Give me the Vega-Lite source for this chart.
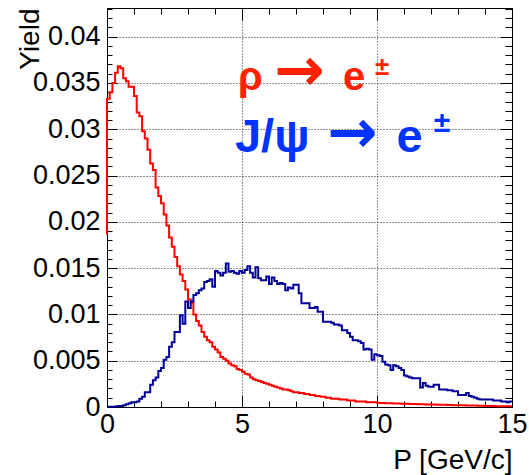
{
  "$schema": "https://vega.github.io/schema/vega-lite/v6.json",
  "width": 405,
  "height": 399,
  "autosize": "none",
  "padding": {"left": 107, "top": 8, "right": 17, "bottom": 68},
  "background": "white",
  "config": {
    "view": {"stroke": null},
    "axis": {
      "domainColor": "black", "domainWidth": 1,
      "tickColor": "black", "tickWidth": 1,
      "labelFont": "Liberation Sans", "labelFontSize": 27, "labelColor": "black",
      "titleFont": "Liberation Sans", "titleFontSize": 28, "titleFontWeight": "normal", "titleColor": "black",
      "gridColor": "black", "gridDash": [1, 2], "gridWidth": 1
    }
  },
  "datasets": {
    "red": [
      {"x":0,"y":0.0186},{"x":0,"y":0.0333},{"x":0.1,"y":0.034},{"x":0.2,"y":0.035},{"x":0.3,"y":0.0361},{"x":0.4,"y":0.0368},{"x":0.5,"y":0.0366},{"x":0.6,"y":0.0355},{"x":0.7,"y":0.0352},{"x":0.8,"y":0.0346},{"x":0.9,"y":0.0346},
      {"x":1,"y":0.0336},{"x":1.1,"y":0.0318},{"x":1.2,"y":0.0314},{"x":1.3,"y":0.0298},{"x":1.4,"y":0.029},{"x":1.5,"y":0.0278},{"x":1.6,"y":0.0263},{"x":1.7,"y":0.0256},{"x":1.8,"y":0.0237},{"x":1.9,"y":0.0228},
      {"x":2,"y":0.022},{"x":2.1,"y":0.0208},{"x":2.2,"y":0.0196},{"x":2.3,"y":0.0183},{"x":2.4,"y":0.0173},{"x":2.5,"y":0.0162},{"x":2.6,"y":0.0152},{"x":2.7,"y":0.0143},{"x":2.8,"y":0.0136},{"x":2.9,"y":0.0127},
      {"x":3,"y":0.0116},{"x":3.1,"y":0.0113},{"x":3.2,"y":0.01},{"x":3.3,"y":0.0093},{"x":3.4,"y":0.0088},{"x":3.5,"y":0.0081},{"x":3.6,"y":0.0076},{"x":3.7,"y":0.0072},{"x":3.8,"y":0.007},{"x":3.9,"y":0.0065},
      {"x":4,"y":0.0062},{"x":4.1,"y":0.0059},{"x":4.2,"y":0.0054},{"x":4.3,"y":0.0052},{"x":4.4,"y":0.005},{"x":4.5,"y":0.0047},{"x":4.6,"y":0.0045},{"x":4.7,"y":0.0044},{"x":4.8,"y":0.0041},{"x":4.9,"y":0.004},
      {"x":5,"y":0.0038},{"x":5.1,"y":0.0036},{"x":5.2,"y":0.0035},{"x":5.3,"y":0.0032},{"x":5.4,"y":0.003},{"x":5.5,"y":0.0029},{"x":5.6,"y":0.0028},{"x":5.7,"y":0.0027},{"x":5.8,"y":0.0026},{"x":5.9,"y":0.0025},
      {"x":6,"y":0.0024},{"x":6.1,"y":0.0023},{"x":6.2,"y":0.0022},{"x":6.3,"y":0.0021},{"x":6.4,"y":0.002},{"x":6.5,"y":0.0019},{"x":6.6,"y":0.0019},{"x":6.7,"y":0.0018},{"x":6.8,"y":0.0017},{"x":6.9,"y":0.0016},
      {"x":7,"y":0.0016},{"x":7.1,"y":0.0015},{"x":7.2,"y":0.0015},{"x":7.3,"y":0.0014},{"x":7.4,"y":0.0014},{"x":7.5,"y":0.0013},{"x":7.6,"y":0.0013},{"x":7.7,"y":0.0012},{"x":7.8,"y":0.0012},{"x":7.9,"y":0.0011},
      {"x":8,"y":0.0011},{"x":8.1,"y":0.001},{"x":8.2,"y":0.001},{"x":8.3,"y":0.0009},{"x":8.4,"y":0.0009},{"x":8.5,"y":0.0009},{"x":8.6,"y":0.0008},{"x":8.7,"y":0.0008},{"x":8.8,"y":0.0008},{"x":8.9,"y":0.0007},
      {"x":9,"y":0.0007},{"x":9.1,"y":0.0007},{"x":9.2,"y":0.0006},{"x":9.3,"y":0.0006},{"x":9.4,"y":0.0006},{"x":9.5,"y":0.0006},{"x":9.6,"y":0.0005},{"x":9.7,"y":0.0005},{"x":9.8,"y":0.0005},{"x":9.9,"y":0.0005},
      {"x":10,"y":0.00045},{"x":10.1,"y":0.00044},{"x":10.2,"y":0.00042},{"x":10.3,"y":0.00041},{"x":10.4,"y":0.0004},{"x":10.5,"y":0.0004},{"x":10.6,"y":0.00039},{"x":10.7,"y":0.00038},{"x":10.8,"y":0.00037},{"x":10.9,"y":0.00036},
      {"x":11,"y":0.00035},{"x":11.1,"y":0.00034},{"x":11.2,"y":0.00033},{"x":11.3,"y":0.00032},{"x":11.4,"y":0.00032},{"x":11.5,"y":0.00031},{"x":11.6,"y":0.0003},{"x":11.7,"y":0.00029},{"x":11.8,"y":0.00028},{"x":11.9,"y":0.00028},
      {"x":12,"y":0.00027},{"x":12.1,"y":0.00026},{"x":12.2,"y":0.00025},{"x":12.3,"y":0.00024},{"x":12.4,"y":0.00024},{"x":12.5,"y":0.00023},{"x":12.6,"y":0.00022},{"x":12.7,"y":0.00021},{"x":12.8,"y":0.0002},{"x":12.9,"y":0.0002},
      {"x":13,"y":0.00019},{"x":13.1,"y":0.00018},{"x":13.2,"y":0.00018},{"x":13.3,"y":0.00017},{"x":13.4,"y":0.00016},{"x":13.5,"y":0.00015},{"x":13.6,"y":0.00015},{"x":13.7,"y":0.00014},{"x":13.8,"y":0.00013},{"x":13.9,"y":0.00013},
      {"x":14,"y":0.00012},{"x":14.1,"y":0.00011},{"x":14.2,"y":0.0001},{"x":14.3,"y":0.0001},{"x":14.4,"y":0.00009},{"x":14.5,"y":0.00009},{"x":14.6,"y":0.00008},{"x":14.7,"y":0.00008},{"x":14.8,"y":0.00007},{"x":14.9,"y":0.00007},
      {"x":15,"y":0.00007}
    ],
    "blue": [
      {"x":0,"y":0.00003},{"x":0.1,"y":0.00003},{"x":0.2,"y":0.00004},{"x":0.3,"y":0.00005},{"x":0.4,"y":0.0001},{"x":0.5,"y":0.0001},{"x":0.6,"y":0.0002},{"x":0.7,"y":0.0003},{"x":0.8,"y":0.0004},{"x":0.9,"y":0.0005},
      {"x":1,"y":0.0005},{"x":1.1,"y":0.0006},{"x":1.2,"y":0.0009},{"x":1.3,"y":0.0011},{"x":1.4,"y":0.0016},{"x":1.5,"y":0.0016},{"x":1.6,"y":0.0024},{"x":1.7,"y":0.0029},{"x":1.8,"y":0.0032},{"x":1.9,"y":0.0039},
      {"x":2,"y":0.0042},{"x":2.1,"y":0.0051},{"x":2.2,"y":0.0054},{"x":2.3,"y":0.0065},{"x":2.4,"y":0.007},{"x":2.5,"y":0.0081},{"x":2.6,"y":0.0081},{"x":2.7,"y":0.0099},{"x":2.8,"y":0.009},{"x":2.9,"y":0.0114},
      {"x":3,"y":0.0107},{"x":3.1,"y":0.0114},{"x":3.2,"y":0.0121},{"x":3.3,"y":0.0123},{"x":3.4,"y":0.0126},{"x":3.5,"y":0.0128},{"x":3.6,"y":0.0135},{"x":3.7,"y":0.0136},{"x":3.8,"y":0.0138},{"x":3.9,"y":0.013},
      {"x":4,"y":0.0147},{"x":4.1,"y":0.0145},{"x":4.2,"y":0.0142},{"x":4.3,"y":0.0145},{"x":4.4,"y":0.0155},{"x":4.5,"y":0.0146},{"x":4.6,"y":0.0147},{"x":4.7,"y":0.0145},{"x":4.8,"y":0.0144},{"x":4.9,"y":0.0147},
      {"x":5,"y":0.0145},{"x":5.1,"y":0.0148},{"x":5.2,"y":0.0152},{"x":5.3,"y":0.0145},{"x":5.4,"y":0.014},{"x":5.5,"y":0.0151},{"x":5.6,"y":0.0139},{"x":5.7,"y":0.0137},{"x":5.8,"y":0.0137},{"x":5.9,"y":0.0141},
      {"x":6,"y":0.0133},{"x":6.1,"y":0.014},{"x":6.2,"y":0.0136},{"x":6.3,"y":0.0133},{"x":6.4,"y":0.0134},{"x":6.5,"y":0.0133},{"x":6.6,"y":0.0126},{"x":6.7,"y":0.0129},{"x":6.8,"y":0.0128},{"x":6.9,"y":0.0132},
      {"x":7,"y":0.0132},{"x":7.1,"y":0.0123},{"x":7.2,"y":0.0112},{"x":7.3,"y":0.0112},{"x":7.4,"y":0.0112},{"x":7.5,"y":0.0107},{"x":7.6,"y":0.0107},{"x":7.7,"y":0.0108},{"x":7.8,"y":0.0103},{"x":7.9,"y":0.0103},
      {"x":8,"y":0.0092},{"x":8.1,"y":0.0092},{"x":8.2,"y":0.0092},{"x":8.3,"y":0.0091},{"x":8.4,"y":0.0089},{"x":8.5,"y":0.0089},{"x":8.6,"y":0.0088},{"x":8.7,"y":0.0083},{"x":8.8,"y":0.0083},{"x":8.9,"y":0.008},
      {"x":9,"y":0.0076},{"x":9.1,"y":0.0072},{"x":9.2,"y":0.0072},{"x":9.3,"y":0.0071},{"x":9.4,"y":0.0069},{"x":9.5,"y":0.0062},{"x":9.6,"y":0.0063},{"x":9.7,"y":0.0062},{"x":9.8,"y":0.0051},{"x":9.9,"y":0.0057},
      {"x":10,"y":0.0056},{"x":10.1,"y":0.0055},{"x":10.2,"y":0.0049},{"x":10.3,"y":0.0046},{"x":10.4,"y":0.0045},{"x":10.5,"y":0.004},{"x":10.6,"y":0.0045},{"x":10.7,"y":0.0044},{"x":10.8,"y":0.0042},{"x":10.9,"y":0.004},
      {"x":11,"y":0.0034},{"x":11.1,"y":0.0033},{"x":11.2,"y":0.0032},{"x":11.3,"y":0.0031},{"x":11.4,"y":0.0031},{"x":11.5,"y":0.0031},{"x":11.6,"y":0.0021},{"x":11.7,"y":0.0026},{"x":11.8,"y":0.0023},{"x":11.9,"y":0.0022},
      {"x":12,"y":0.0022},{"x":12.1,"y":0.0024},{"x":12.2,"y":0.0024},{"x":12.3,"y":0.0019},{"x":12.4,"y":0.0019},{"x":12.5,"y":0.0019},{"x":12.6,"y":0.0018},{"x":12.7,"y":0.0018},{"x":12.8,"y":0.0017},{"x":12.9,"y":0.0017},
      {"x":13,"y":0.0013},{"x":13.1,"y":0.0013},{"x":13.2,"y":0.0013},{"x":13.3,"y":0.0015},{"x":13.4,"y":0.0012},{"x":13.5,"y":0.0011},{"x":13.6,"y":0.001},{"x":13.7,"y":0.0009},{"x":13.8,"y":0.0008},{"x":13.9,"y":0.0008},
      {"x":14,"y":0.0008},{"x":14.1,"y":0.0008},{"x":14.2,"y":0.0008},{"x":14.3,"y":0.0007},{"x":14.4,"y":0.0007},{"x":14.5,"y":0.0007},{"x":14.6,"y":0.0006},{"x":14.7,"y":0.0006},{"x":14.8,"y":0.0005},{"x":14.9,"y":0.0006},
      {"x":15,"y":0.0006}
    ],
    "labels": [
      {"t":"ρ","x":4.85,"y":0.03427,"g":"rm"},
      {"t":"→","x":6.2,"y":0.03427,"g":"ra"},
      {"t":"e","x":8.74,"y":0.03427,"g":"rm"},
      {"t":"±","x":9.93,"y":0.0359,"g":"rs"},
      {"t":"J/ψ","x":4.74,"y":0.02757,"g":"bm"},
      {"t":"→","x":8.17,"y":0.02757,"g":"ba"},
      {"t":"e","x":10.72,"y":0.02757,"g":"bm"},
      {"t":"±","x":12.1,"y":0.0297,"g":"bs"}
    ]
  },
  "layer": [
    {
      "data": {"name": "red"},
      "mark": {"type": "line", "interpolate": "step-after", "color": "#ff0000", "strokeWidth": 2},
      "encoding": {
        "x": {"field": "x", "type": "quantitative", "scale": {"domain": [0, 15], "nice": false, "zero": false},
          "axis": {"orient": "bottom", "values": [0,1,2,3,4,5,6,7,8,9,10,11,12,13,14,15],
            "labelExpr": "datum.value % 5 === 0 ? datum.label : ''",
            "tickSize": {"condition": {"test": "datum.value % 5 === 0", "value": -12}, "value": -6},
            "grid": true,
            "gridOpacity": {"condition": {"test": "datum.value % 5 === 0 && datum.value > 0 && datum.value < 15", "value": 0.85}, "value": 0},
            "labelPadding": 16, "labelFlush": false, "labelOverlap": false,
            "title": "P [GeV/c]", "titleAnchor": "end", "titleAlign": "right", "titleBaseline": "alphabetic", "titleX": 405, "titleY": 61}},
        "y": {"field": "y", "type": "quantitative", "scale": {"domain": [0, 0.0431], "nice": false, "zero": false},
          "axis": {"orient": "left",
            "values": [0,0.001,0.002,0.003,0.004,0.005,0.006,0.007,0.008,0.009,0.01,0.011,0.012,0.013,0.014,0.015,0.016,0.017,0.018,0.019,0.02,0.021,0.022,0.023,0.024,0.025,0.026,0.027,0.028,0.029,0.03,0.031,0.032,0.033,0.034,0.035,0.036,0.037,0.038,0.039,0.04,0.041,0.042,0.043],
            "labelExpr": "round(datum.value*1000) % 5 === 0 ? format(datum.value, '~g') : ''",
            "tickSize": {"condition": {"test": "round(datum.value*1000) % 5 === 0", "value": -10}, "value": -5},
            "grid": true,
            "gridOpacity": {"condition": {"test": "round(datum.value*1000) % 5 === 0 && datum.value > 0", "value": 0.85}, "value": 0},
            "labelPadding": 17, "labelFlush": false, "labelOverlap": false,
            "title": "Yield", "titleAngle": -90, "titleAnchor": "end", "titleAlign": "right", "titleBaseline": "alphabetic", "titleX": -69, "titleY": 0}}
      }
    },
    {
      "data": {"name": "blue"},
      "mark": {"type": "line", "interpolate": "step-after", "color": "#000099", "strokeWidth": 2},
      "encoding": {
        "x": {"field": "x", "type": "quantitative",
          "axis": {"orient": "top", "values": [0,1,2,3,4,5,6,7,8,9,10,11,12,13,14,15], "labels": false, "grid": false, "title": null,
            "tickSize": {"condition": {"test": "datum.value % 5 === 0", "value": -12}, "value": -6}}},
        "y": {"field": "y", "type": "quantitative",
          "axis": {"orient": "right", "labels": false, "grid": false, "title": null,
            "values": [0,0.001,0.002,0.003,0.004,0.005,0.006,0.007,0.008,0.009,0.01,0.011,0.012,0.013,0.014,0.015,0.016,0.017,0.018,0.019,0.02,0.021,0.022,0.023,0.024,0.025,0.026,0.027,0.028,0.029,0.03,0.031,0.032,0.033,0.034,0.035,0.036,0.037,0.038,0.039,0.04,0.041,0.042,0.043],
            "tickSize": {"condition": {"test": "round(datum.value*1000) % 5 === 0", "value": -12}, "value": -7}}}
      }
    },
    {
      "data": {"name": "labels"},
      "transform": [{"filter": "datum.g === 'rm'"}],
      "mark": {"type": "text", "align": "left", "baseline": "alphabetic", "font": "Liberation Sans", "fontWeight": "bold", "fontSize": 40, "color": "#ff2200"},
      "encoding": {
        "x": {"field": "x", "type": "quantitative", "axis": null},
        "y": {"field": "y", "type": "quantitative", "axis": null},
        "text": {"field": "t"}
      }
    },
    {
      "data": {"name": "labels"},
      "transform": [{"filter": "datum.g === 'ra'"}],
      "mark": {"type": "text", "align": "left", "baseline": "alphabetic", "font": "DejaVu Sans", "fontWeight": "bold", "fontSize": 60, "color": "#ff2200"},
      "encoding": {
        "x": {"field": "x", "type": "quantitative", "axis": null},
        "y": {"field": "y", "type": "quantitative", "axis": null},
        "text": {"field": "t"}
      }
    },
    {
      "data": {"name": "labels"},
      "transform": [{"filter": "datum.g === 'rs'"}],
      "mark": {"type": "text", "align": "left", "baseline": "alphabetic", "font": "Liberation Sans", "fontWeight": "bold", "fontSize": 26, "color": "#ff2200"},
      "encoding": {
        "x": {"field": "x", "type": "quantitative", "axis": null},
        "y": {"field": "y", "type": "quantitative", "axis": null},
        "text": {"field": "t"}
      }
    },
    {
      "data": {"name": "labels"},
      "transform": [{"filter": "datum.g === 'bm'"}],
      "mark": {"type": "text", "align": "left", "baseline": "alphabetic", "font": "Liberation Sans", "fontWeight": "bold", "fontSize": 47, "color": "#0033ff"},
      "encoding": {
        "x": {"field": "x", "type": "quantitative", "axis": null},
        "y": {"field": "y", "type": "quantitative", "axis": null},
        "text": {"field": "t"}
      }
    },
    {
      "data": {"name": "labels"},
      "transform": [{"filter": "datum.g === 'ba'"}],
      "mark": {"type": "text", "align": "left", "baseline": "alphabetic", "font": "DejaVu Sans", "fontWeight": "bold", "fontSize": 60, "color": "#0033ff"},
      "encoding": {
        "x": {"field": "x", "type": "quantitative", "axis": null},
        "y": {"field": "y", "type": "quantitative", "axis": null},
        "text": {"field": "t"}
      }
    },
    {
      "data": {"name": "labels"},
      "transform": [{"filter": "datum.g === 'bs'"}],
      "mark": {"type": "text", "align": "left", "baseline": "alphabetic", "font": "Liberation Sans", "fontWeight": "bold", "fontSize": 30, "color": "#0033ff"},
      "encoding": {
        "x": {"field": "x", "type": "quantitative", "axis": null},
        "y": {"field": "y", "type": "quantitative", "axis": null},
        "text": {"field": "t"}
      }
    }
  ],
  "resolve": {"axis": {"x": "independent", "y": "independent"}}
}
